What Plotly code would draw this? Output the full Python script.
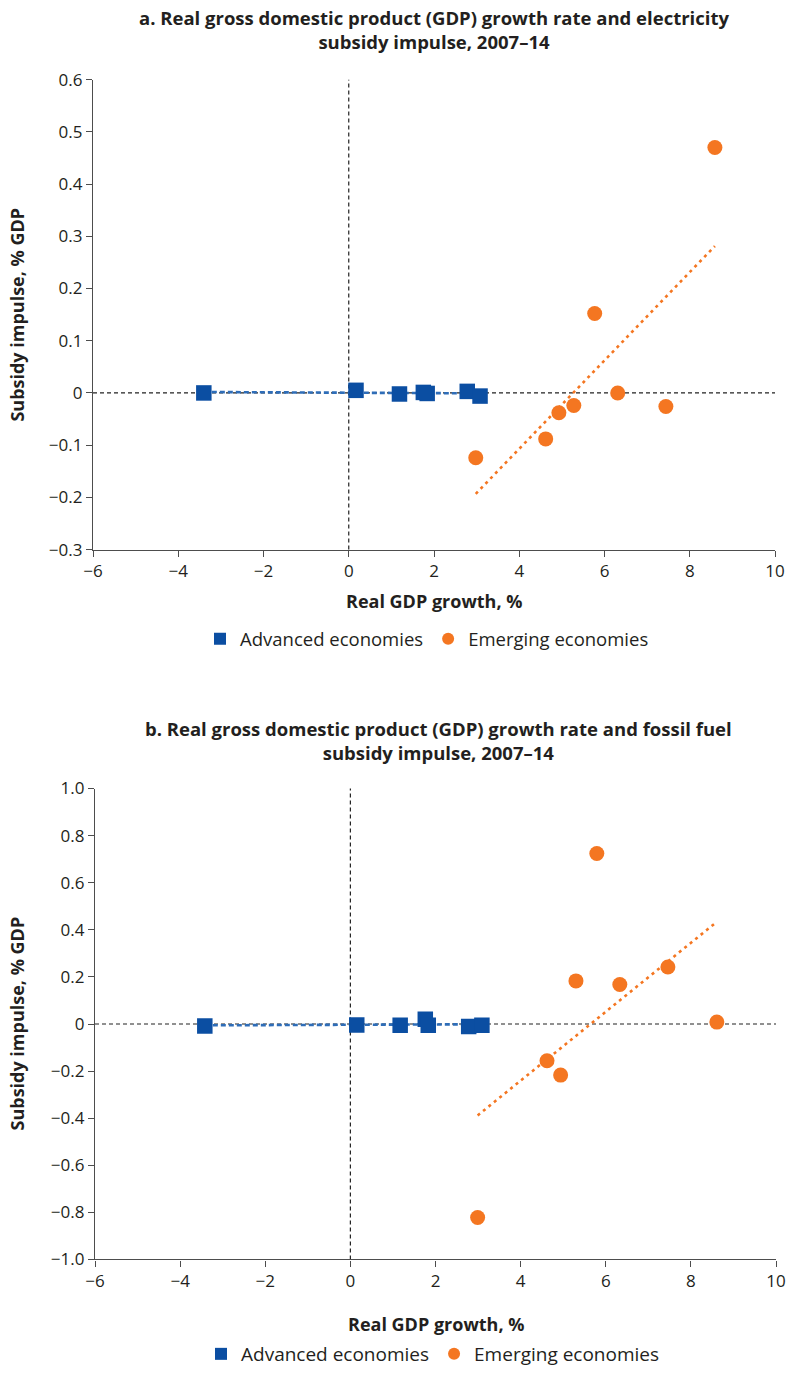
import numpy as np
import plotly.graph_objects as go

# ---- Data ----
# Panel a: electricity subsidy impulse
a_adv_x = [-3.40, 0.17, 1.19, 1.75, 1.84, 2.78, 3.08]
a_adv_y = [0.000, 0.005, -0.002, 0.001, -0.001, 0.003, -0.006]
a_emg_x = [2.98, 4.62, 4.93, 5.28, 5.77, 6.31, 7.44, 8.59]
a_emg_y = [-0.124, -0.088, -0.038, -0.024, 0.152, 0.000, -0.026, 0.470]

# Panel b: fossil fuel subsidy impulse
b_adv_x = [-3.42, 0.15, 1.17, 1.76, 1.83, 2.78, 3.09]
b_adv_y = [-0.008, -0.004, -0.005, 0.020, -0.005, -0.011, -0.005]
b_emg_x = [2.99, 4.62, 4.94, 5.30, 5.79, 6.33, 7.46, 8.61]
b_emg_y = [-0.822, -0.156, -0.217, 0.183, 0.724, 0.168, 0.242, 0.008]

x_ticks = [-6, -4, -2, 0, 2, 4, 6, 8, 10]
x_labels = ["\u22126", "\u22124", "\u22122", "0", "2", "4", "6", "8", "10"]
a_y_ticks = [0.6, 0.5, 0.4, 0.3, 0.2, 0.1, 0, -0.1, -0.2, -0.3]
a_y_labels = ["0.6", "0.5", "0.4", "0.3", "0.2", "0.1", "0", "\u22120.1", "\u22120.2", "\u22120.3"]
b_y_ticks = [1.0, 0.8, 0.6, 0.4, 0.2, 0, -0.2, -0.4, -0.6, -0.8, -1.0]
b_y_labels = ["1.0", "0.8", "0.6", "0.4", "0.2", "0", "\u22120.2", "\u22120.4", "\u22120.6", "\u22120.8", "\u22121.0"]

title_a = "a. Real gross domestic product (GDP) growth rate and electricity<br>subsidy impulse, 2007\u201314"
title_b = "b. Real gross domestic product (GDP) growth rate and fossil fuel<br>subsidy impulse, 2007\u201314"
x_title = "Real GDP growth, %"
y_title = "Subsidy impulse, % GDP"
names = ["Advanced economies", "Emerging economies"]

BLUE = "#0B4EA2"
BLUE_LINE = "#2E6DB8"
ORANGE = "#F47621"
TXT = "#231F20"
AX = "#4D4D4D"
FONT = "Open Sans"

W, H = 787, 1373


def fit(xs, ys):
    xs = np.array(xs); ys = np.array(ys)
    m, c = np.polyfit(xs, ys, 1)
    xx = np.array([xs.min(), xs.max()])
    return xx, m * xx + c


def px(v):
    return v / W


def py(v):
    return (H - v) / H


fig = go.Figure()

panels = [
    ("x", "y", a_adv_x, a_adv_y, a_emg_x, a_emg_y, "legend"),
    ("x2", "y2", b_adv_x, b_adv_y, b_emg_x, b_emg_y, "legend2"),
]
for xa, ya, ax_, ay_, ex_, ey_, lg in panels:
    tx, ty = fit(ax_, ay_)
    fig.add_trace(go.Scatter(x=tx, y=ty, mode="lines", xaxis=xa, yaxis=ya,
                             line=dict(color=BLUE_LINE, width=2.6, dash="5px,3px"),
                             showlegend=False, hoverinfo="skip"))
    tx, ty = fit(ex_, ey_)
    fig.add_trace(go.Scatter(x=tx, y=ty, mode="lines", xaxis=xa, yaxis=ya,
                             line=dict(color=ORANGE, width=2.6, dash="3px,4px"),
                             showlegend=False, hoverinfo="skip"))
    fig.add_trace(go.Scatter(x=ax_, y=ay_, mode="markers", name=names[0], xaxis=xa, yaxis=ya,
                             marker=dict(symbol="square", size=15.5, color=BLUE), legend=lg))
    fig.add_trace(go.Scatter(x=ex_, y=ey_, mode="markers", name=names[1], xaxis=xa, yaxis=ya,
                             marker=dict(symbol="circle", size=15, color=ORANGE), legend=lg))

axis_common = dict(showgrid=False, zeroline=False, showline=True, linecolor=AX, linewidth=1.3,
                   ticks="outside", ticklen=6, tickwidth=1.3, tickcolor=AX, automargin=False,
                   tickfont=dict(family=FONT, size=17, color=TXT))

fig.update_layout(
    width=W, height=H, margin=dict(l=0, r=0, t=0, b=0),
    paper_bgcolor="white", plot_bgcolor="white",
    font=dict(family=FONT, color=TXT),
    xaxis=dict(domain=[px(93), px(775)], range=[-6, 10], tickvals=x_ticks, ticktext=x_labels,
               anchor="y", **axis_common),
    yaxis=dict(domain=[py(552), py(80)], range=[-0.3, 0.6], tickvals=a_y_ticks, ticktext=a_y_labels,
               anchor="x", **axis_common),
    xaxis2=dict(domain=[px(95), px(776)], range=[-6, 10], tickvals=x_ticks, ticktext=x_labels,
                anchor="y2", **axis_common),
    yaxis2=dict(domain=[py(1265), py(792)], range=[-1.0, 1.0], tickvals=b_y_ticks, ticktext=b_y_labels,
                anchor="x2", **axis_common),
    legend=dict(orientation="h", x=px(200), xanchor="left", y=py(642), yanchor="middle",
                font=dict(family=FONT, size=18.5, color=TXT), itemsizing="constant"),
    legend2=dict(orientation="h", x=px(201), xanchor="left", y=py(1360), yanchor="middle",
                 font=dict(family=FONT, size=19, color=TXT), itemsizing="constant"),
)

# dashed zero reference lines
for xr, yr in [("x", "y"), ("x2", "y2")]:
    fig.add_shape(type="line", xref=xr, yref=f"{yr} domain", x0=0, x1=0, y0=0, y1=1,
                  line=dict(color="#222222", width=1.2, dash="4px,3px"), layer="below")
    fig.add_shape(type="line", xref=f"{xr} domain", yref=yr, x0=0, x1=1, y0=0, y1=0,
                  line=dict(color="#222222", width=1.2, dash="4px,3px"), layer="below")

# panel titles
fig.add_annotation(text=f"<b>{title_a}</b>", xref="paper", yref="paper", x=px(434), y=py(30),
                   xanchor="center", yanchor="middle", showarrow=False,
                   font=dict(family=FONT, size=18.5, color=TXT))
fig.add_annotation(text=f"<b>{title_b}</b>", xref="paper", yref="paper", x=px(438), y=py(744),
                   xanchor="center", yanchor="middle", showarrow=False,
                   font=dict(family=FONT, size=18.5, color=TXT))

# axis titles
for cx, cy in [(434, 604), (436, 1330)]:
    fig.add_annotation(text=f"<b>{x_title}</b>", xref="paper", yref="paper", x=px(cx), y=py(cy),
                       xanchor="center", yanchor="middle", showarrow=False,
                       font=dict(family=FONT, size=18, color=TXT))
for cx, cy in [(17, 316), (17, 1028)]:
    fig.add_annotation(text=f"<b>{y_title}</b>", xref="paper", yref="paper", x=px(cx), y=py(cy),
                       xanchor="center", yanchor="middle", showarrow=False, textangle=-90,
                       font=dict(family=FONT, size=18, color=TXT))

fig.write_html("out.html", config={"displayModeBar": False},
               post_script="document.body.style.margin='0px';")
